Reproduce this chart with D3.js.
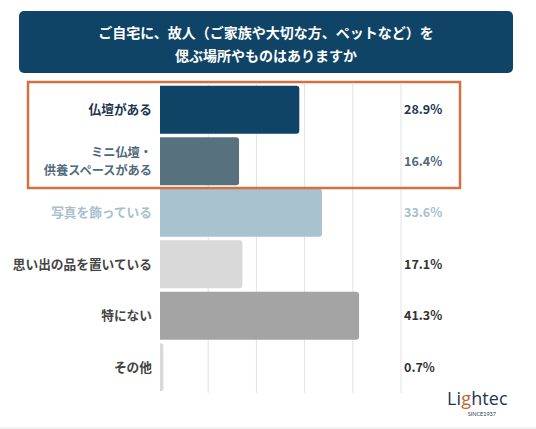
<!DOCTYPE html>
<html><head><meta charset="utf-8">
<script src="https://cdn.jsdelivr.net/npm/d3@7"></script>
<style>
html,body{margin:0;padding:0;background:#fff;}
svg{display:block;font-family:"Noto Sans CJK JP","Noto Sans",sans-serif;}
</style></head>
<body>
<script>
const titleLines = ["ご自宅に、故人（ご家族や大切な方、ペットなど）を", "偲ぶ場所やものはありますか"];
const categories = ["仏壇がある", "ミニ仏壇・\n供養スペースがある", "写真を飾っている", "思い出の品を置いている", "特にない", "その他"];
const values = [28.9, 16.4, 33.6, 17.1, 41.3, 0.7];
const valueLabels = ["28.9%", "16.4%", "33.6%", "17.1%", "41.3%", "0.7%"];
const gridTicks = [10, 20, 30, 40, 50];
const barColors = ["#0f4466", "#57717f", "#a8c2cf", "#d9d9d9", "#a4a4a4", "#d9d9d9"];
const labelColors = ["#1c3550", "#4f6a7b", "#a8c0cd", "#444444", "#444444", "#444444"];
const valueColors = ["#1c3550", "#4f6a7b", "#a8c0cd", "#333333", "#333333", "#333333"];

const W = 536, H = 429;
const svg = d3.select("body").append("svg").attr("width", W).attr("height", H);

// title box
svg.append("rect").attr("x", 19).attr("y", 11).attr("width", 494).attr("height", 62)
  .attr("rx", 5).attr("fill", "#0f4466");
svg.selectAll("text.title").data(titleLines).join("text")
  .attr("class", "title")
  .attr("x", 266).attr("y", (d, i) => 38 + i * 23)
  .attr("text-anchor", "middle").attr("fill", "#fff")
  .attr("font-size", 14).attr("font-weight", 700).text(d => d);

const x = d3.scaleLinear().domain([0, 50]).range([160, 401]);
const y = d3.scaleBand().domain(categories).range([84, 393]).paddingInner(0.07).paddingOuter(0.035);

// gridlines
svg.selectAll("line.grid").data(gridTicks).join("line")
  .attr("class", "grid")
  .attr("x1", d => x(d)).attr("x2", d => x(d))
  .attr("y1", 84).attr("y2", 393)
  .attr("stroke", "#e2e2e2").attr("stroke-width", 1);

// bars with rounded right corners
function barPath(x0, y0, w, h, r) {
  r = Math.min(r, w, h / 2);
  return `M${x0},${y0}H${x0 + w - r}Q${x0 + w},${y0} ${x0 + w},${y0 + r}V${y0 + h - r}Q${x0 + w},${y0 + h} ${x0 + w - r},${y0 + h}H${x0}Z`;
}
svg.selectAll("path.bar").data(values).join("path")
  .attr("class", "bar")
  .attr("d", (d, i) => barPath(x(0), y(categories[i]), x(d) - x(0), y.bandwidth(), 3))
  .attr("fill", (d, i) => barColors[i]);

// category labels
categories.forEach((c, i) => {
  const lines = c.split("\n");
  const cy = y(c) + y.bandwidth() / 2;
  const lh = 17.5;
  const fs = lines.length > 1 ? 12.2 : 12.7;
  lines.forEach((ln, j) => {
    svg.append("text").attr("text-anchor", "end")
      .attr("font-size", fs).attr("font-weight", 700).attr("fill", labelColors[i])
      .attr("x", 152)
      .attr("y", cy + (j - (lines.length - 1) / 2) * lh + 4.5).text(ln);
  });
});

// value labels
svg.selectAll("text.val").data(valueLabels).join("text")
  .attr("class", "val")
  .attr("x", x(50) + 3)
  .attr("y", (d, i) => y(categories[i]) + y.bandwidth() / 2 + 4.5)
  .attr("font-size", 12.5).attr("font-weight", 700)
  .attr("fill", (d, i) => valueColors[i]).text(d => d);

// highlight box
svg.append("rect").attr("x", 28).attr("y", 82).attr("width", 432).attr("height", 106)
  .attr("fill", "none").attr("stroke", "#d3703f").attr("stroke-width", 2.5);

// logo
const logoParts = [["Li", "#1c3550"], ["g", "#c8642e"], ["htec", "#1c3550"]];
let lx = 447;
logoParts.forEach(([t, col]) => {
  const el = svg.append("text").attr("x", lx).attr("y", 405)
    .attr("font-family", "'Liberation Sans Narrow', 'Open Sans', sans-serif")
    .attr("font-size", 18).attr("fill", col).text(t);
  lx += el.node().getComputedTextLength() + 0.3;
});
svg.append("text").attr("x", 496).attr("y", 415.5).attr("text-anchor", "end")
  .attr("font-family", "Lato, sans-serif").attr("font-size", 5.5).attr("fill", "#1c3550").text("SINCE1937");

svg.append("line").attr("x1", 0).attr("x2", W).attr("y1", 428).attr("y2", 428)
  .attr("stroke", "#e6e6e6");
</script>
</body></html>
